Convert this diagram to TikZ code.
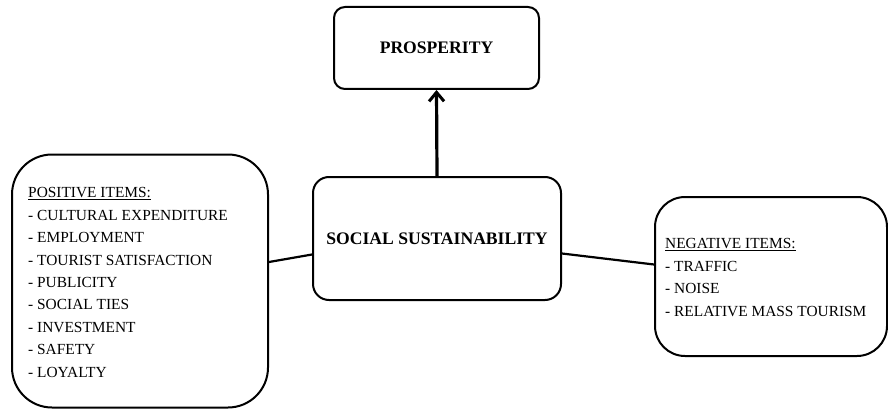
\documentclass[tikz,border=0pt]{standalone}
\usepackage{fontspec}
\setmainfont{Liberation Serif}
\usetikzlibrary{arrows.meta, positioning}

\begin{document}
\begin{tikzpicture}[
  x=1pt, y=-1pt,
  >={Straight Barb[length=9pt, width=15pt, line width=3pt]},
  mainbox/.style={
    draw=black, line width=2pt, rounded corners=#1,
    font=\fontsize{17.6}{20}\selectfont\bfseries, align=center
  },
  itembox/.style={
    draw=black, line width=2pt, rounded corners=#1
  },
  itemlist/.style={
    font=\fontsize{15.4}{22.4}\selectfont, align=left,
    anchor=north west, inner sep=0pt
  },
  link/.style={line width=2.2pt, black},
]

\useasboundingbox (0,0) rectangle (888,409);

% ---- Top and centre boxes ----
\node[mainbox=11pt, minimum width=205pt, minimum height=82pt]
  (prosperity) at (436.5,48) {PROSPERITY};
\node[mainbox=16pt, minimum width=248pt, minimum height=123pt]
  (social) at (437,238.5) {SOCIAL SUSTAINABILITY};

% ---- Item boxes ----
\node[itembox=40pt, minimum width=256pt, minimum height=253pt]
  (positive) at (140,281) {};
\node[itembox=30pt, minimum width=232pt, minimum height=159pt]
  (negative) at (771,276.5) {};

\node[itemlist] (poslist) at (28,187.5)
  {\underline{POSITIVE ITEMS:}\\
   - CULTURAL EXPENDITURE\\
   - EMPLOYMENT\\
   - TOURIST SATISFACTION\\
   - PUBLICITY\\
   - SOCIAL TIES\\
   - INVESTMENT\\
   - SAFETY\\
   - LOYALTY};

\node[itemlist] (neglist) at (665,238.5)
  {\underline{NEGATIVE ITEMS:}\\
   - TRAFFIC\\
   - NOISE\\
   - RELATIVE MASS TOURISM};

% ---- Connectors ----
\draw[->, line width=3.2pt] (social.north) -- (prosperity.south);
\draw[link] ([yshift=19pt]positive.east) -- ([yshift=-16pt]social.west);
\draw[link] ([yshift=-15pt]social.east) -- ([yshift=12pt]negative.west);

\end{tikzpicture}
\end{document}
